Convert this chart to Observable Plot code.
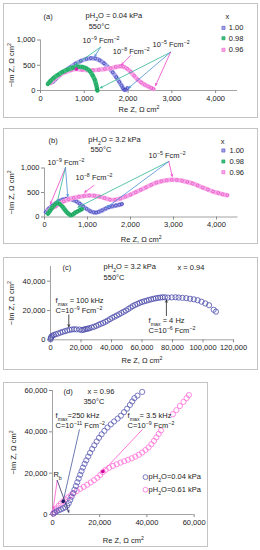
<!DOCTYPE html>
<html><head><meta charset="utf-8">
<script src="https://cdn.jsdelivr.net/npm/d3@7"></script>
<script src="https://cdn.jsdelivr.net/npm/@observablehq/plot@0.6"></script>
<style>
html,body{margin:0;padding:0;background:#fff;}
body{width:260px;height:550px;position:relative;overflow:hidden;font-family:"Liberation Sans",Arial,sans-serif;}
.panel{position:absolute;}
.panel svg{position:absolute;left:0;top:0;overflow:visible;}
.box{position:absolute;left:0;top:0;right:0;bottom:0;border:1px solid #c4c4c4;box-sizing:border-box;pointer-events:none;}
</style></head><body>
<script>
// ---------------- DATA ----------------
const xSeries = ["1.00", "0.98", "0.96"];
const pSeries = ["pH_{2}O=0.04 kPa", "pH_{2}O=0.61 kPa"];

// panel (a): pH2O = 0.04 kPa, 550 °C   [Re Z, -Im Z]
const a100 = [[280,170],[350,230],[450,310],[560,390],[680,460],[800,530],[920,585],[1050,625],[1150,640],[1250,635],[1350,600],[1450,540],[1550,455],[1650,360],[1730,265],[1800,170],[1850,100],[1885,45],[1910,15],[1950,15],[1985,45]];
const a098 = [[170,130],[230,190],[300,250],[400,310],[500,365],[620,415],[740,450],[860,470],[960,465],[1050,435],[1130,380],[1190,300],[1240,210],[1270,120],[1290,50],[1295,10],[1300,0]];
const a096 = [[230,150],[320,230],[430,300],[560,360],[700,405],[820,425],[950,410],[1080,400],[1200,400],[1330,410],[1470,425],[1600,440],[1720,465],[1820,480],[1900,470],[1980,430],[2060,370],[2140,290],[2220,215],[2300,160],[2380,115],[2460,80],[2530,50],[2580,30]];

// panel (b): pH2O = 3.2 kPa, 550 °C
const b100 = [[30,100],[100,170],[180,230],[260,280],[340,325],[420,355],[500,370],[580,368],[660,350],[740,320],[820,270],[900,215],[980,165],[1060,120],[1140,95],[1200,90],[1260,105],[1340,135],[1420,170],[1500,200],[1580,220],[1660,235],[1740,250],[1800,265]];
const b098 = [[80,70],[130,130],[180,190],[240,250],[300,285],[360,260],[420,210],[480,140],[540,80],[600,40],[650,45],[700,80],[760,110],[820,140],[870,160]];
const b096 = [[100,130],[180,180],[260,220],[350,270],[450,320],[560,360],[680,390],[800,415],[920,430],[1040,440],[1160,435],[1280,415],[1400,385],[1520,355],[1640,350],[1760,375],[1880,415],[2000,455],[2120,505],[2240,555],[2360,605],[2480,655],[2600,700],[2720,730],[2840,750],[2960,760],[3080,755],[3200,740],[3320,715],[3440,685],[3560,645],[3680,600],[3800,560],[3920,520],[4040,490],[4140,465],[4250,445]];

// panel (c): x = 0.94, pH2O = 3.2 kPa, 550 °C
const c094 = [[0,300],[200,1200],[500,2000],[1200,2800],[2200,3300],[3500,3800],[5000,4300],[6500,4900],[8000,5400],[9500,5900],[11000,6400],[12500,6800],[14000,7000],[15500,7200],[17000,7100],[19000,7000],[20500,6600],[21500,6900],[22500,7100],[23500,7400],[24500,7600],[25500,7900],[27000,8400],[28500,8900],[30000,9500],[31500,10200],[33000,10900],[34500,11500],[36000,12300],[37500,13100],[39000,14100],[40500,15000],[42000,15800],[43500,16600],[45000,17400],[46500,18300],[48000,19100],[49500,20000],[51000,21000],[52500,22000],[54000,23000],[55500,23800],[57000,24500],[58500,25200],[60000,25800],[61500,26300],[63000,26700],[64500,27200],[66000,27600],[67500,28000],[69000,28300],[70500,28600],[72000,28800],[73500,29000],[75000,29000],[77000,28800],[79500,28900],[82000,29000],[84000,28800],[86500,28600],[89000,28400],[91500,28000],[94000,27600],[96500,27000],[99000,26000],[101500,24800],[104000,23600],[107000,20500],[108500,19200]];

// panel (d): x = 0.96, 350 °C
const d004 = [[400,400],[1000,1000],[1800,1600],[2700,2100],[3600,2500],[4500,3000],[5400,3500],[6200,4300],[6900,5500],[7500,7000],[8100,8600],[8700,10300],[9300,12000],[9900,13800],[10500,15600],[11100,17400],[11700,19200],[12300,21000],[12900,22700],[13600,24500],[14300,26200],[15100,28000],[15900,29800],[16800,31700],[17700,33500],[18700,35300],[19700,37100],[20800,38800],[22000,40500],[23300,42100],[24700,43600],[26100,45000],[27600,46400],[29000,47800],[30300,49500],[31600,51200],[32800,53000],[33800,54700],[34700,56300],[36000,57500],[38000,59300]];
const d061 = [[300,500],[700,1200],[1200,2000],[1800,3000],[2600,4200],[3500,5300],[4500,6300],[5500,7300],[6600,8300],[7800,9300],[9000,10300],[10300,11400],[11700,12400],[13200,13400],[14700,14400],[16200,15500],[17600,16600],[19000,17800],[20200,19100],[21300,20500],[22500,21600],[24000,22600],[25600,23500],[27200,24300],[28800,25100],[30400,25800],[32000,26500],[33600,27200],[35100,28000],[36600,28900],[38000,30000],[39400,31200],[40700,32500],[41900,34000],[43000,35600],[44000,37300],[45000,39000],[46000,40700],[51000,48500],[52500,50500],[54000,52500],[55500,54500],[56800,56300],[57800,57800]];

// ticks
const abXTicks = [0,1000,2000,3000,4000];
const abYTicks = [0,500,1000];
const cXTicks = [0,20000,40000,60000,80000,100000,120000];
const cYTicks = [0,20000,40000];
const dXTicks = [0,20000,40000,60000];
const dYTicks = [0,20000,40000,60000];
const reLabel = "Re Z, Ω cm^{2}";
const imLabel = "−Im Z, Ω cm^{2}";

// ---------------- HELPERS ----------------
const FONT = '"Liberation Sans", Arial, sans-serif';
const fmt = d3.format(",");
const BLUE = {light:"#a4a4ea", dark:"#3a3ab4"};
const GREEN = {light:"#3cbf7c", dark:"#0f9a55"};
const PINK = {light:"#f7a8e6", dark:"#e84fc8"};
const ARR = {blue:"#4d8fd8", teal:"#2fb894", pink:"#ee44cc"};
const toPts = arr => arr.map(([re, im]) => ({re, im}));

function band(arr, col, w = 4.5) {
  const data = toPts(arr);
  return [
    Plot.line(data, {x:"re", y:"im", stroke: col.light, strokeWidth: w, strokeLinejoin:"round", strokeLinecap:"round", curve:"catmull-rom"}),
    Plot.dot(data, {x:"re", y:"im", r:1.4, stroke: col.dark, strokeWidth:0.7, fill:"none"})
  ];
}
function circles(arr, stroke, r = 2.6) {
  return Plot.dot(toPts(arr), {x:"re", y:"im", r, stroke, strokeWidth:0.8, fill:"none"});
}
function arrows(list, w = 0.8) {
  return list.map(a => Plot.arrow([a], {x1:"x1", y1:"y1", x2:"x2", y2:"y2", stroke: a.c, strokeWidth: w, headLength: a.h ?? 4, headAngle: 50}));
}
function label(t, x, y, opts = {}) {
  return Plot.text([t], {x, y, textAnchor:"start", fontSize: 7.5, fill:"#222", lineHeight: 1.35, ...opts});
}

function richify(svg) {
  svg.querySelectorAll("text, tspan").forEach(el => {
    if (el.children.length) return;
    const s = el.textContent;
    if (!/[\^_]\{/.test(s)) return;
    el.textContent = "";
    const re = /([\^_])\{([^}]*)\}/g;
    let last = 0, m;
    while ((m = re.exec(s))) {
      if (m.index > last) el.appendChild(document.createTextNode(s.slice(last, m.index)));
      const t = document.createElementNS("http://www.w3.org/2000/svg", "tspan");
      t.setAttribute("baseline-shift", m[1] === "^" ? "super" : "sub");
      t.setAttribute("font-size", "70%");
      t.textContent = m[2];
      el.appendChild(t);
      last = re.lastIndex;
    }
    if (last < s.length) el.appendChild(document.createTextNode(s.slice(last)));
  });
}

function panel(g) {
  const svg = Plot.plot({
    width: g.w, height: g.h,
    marginLeft: g.ml, marginRight: g.mr, marginTop: g.mt, marginBottom: g.mb,
    x: {domain: g.xd},
    y: {domain: g.yd},
    style: {fontFamily: FONT, fontSize: "7.5px", color: "#222", background: "transparent", overflow: "visible"},
    marks: [
      Plot.ruleY([0], {stroke:"#8c8c8c", strokeWidth: 0.8}),
      Plot.ruleX([0], {stroke:"#8c8c8c", strokeWidth: 0.8}),
      Plot.axisX({ticks: g.xt, tickFormat: fmt, tickSize: 3, tickPadding: 2, stroke: "#8c8c8c", label: reLabel, labelAnchor: "center", labelArrow: "none", labelOffset: g.xlo, fontSize: 7.5}),
      Plot.axisY({ticks: g.yt, tickFormat: fmt, tickSize: 3, tickPadding: 2, stroke: "#8c8c8c", label: imLabel, labelAnchor: "center", labelArrow: "none", labelOffset: g.ylo, fontSize: 7.5}),
      ...g.marks
    ]
  });
  richify(svg);
  const div = document.createElement("div");
  div.className = "panel";
  Object.assign(div.style, {left: g.left + "px", top: g.top + "px", width: g.w + "px", height: g.h + "px"});
  div.appendChild(svg);
  const box = document.createElement("div");
  box.className = "box";
  div.appendChild(box);
  document.body.appendChild(div);
}

// ---------------- PANEL (a) ----------------
const colsX = [BLUE, GREEN, PINK];
panel({
  left: 3, top: 3, w: 255, h: 115, ml: 37, mr: 21, mt: 36.5, mb: 28,
  xd: [0, 4500], yd: [0, 1000], xt: abXTicks, yt: abYTicks, xlo: 21.5, ylo: 32,
  marks: [
    ...band(a100, BLUE), ...band(a096, PINK), ...band(a098, GREEN),
    Plot.dot([{re:820, im:425}], {x:"re", y:"im", r:1.8, fill: "#d61fb0"}),
    ...arrows([
      {x1:1371,y1:857,x2:1241,y2:679,c:ARR.blue},
      {x1:1371,y1:857,x2:800,y2:509,c:ARR.teal},
      {x1:2057,y1:693,x2:1851,y2:509,c:ARR.pink},
      {x1:2971,y1:758,x2:1371,y2:53,c:ARR.teal},
      {x1:2971,y1:758,x2:2018,y2:53,c:ARR.blue},
      {x1:2971,y1:758,x2:2629,y2:99,c:ARR.pink}
    ]),
    label("(a)", 70, 1485),
    label("pH_{2}O = 0.04 kPa", 1030, 1495),
    label("550°C", 1100, 1285),
    label("10^{−9} Fcm^{−2}", 960, 1000),
    label("10^{−8} Fcm^{−2}", 1650, 790),
    label("10^{−5} Fcm^{−2}", 2560, 925),
    label("x", 4270, 1485, {textAnchor: "middle"}),
    Plot.dot(xSeries, {x: 4180, y: (d, i) => [1240, 1035, 805][i], symbol: "square", r: 1.8, fill: (d, i) => colsX[i].light, stroke: (d, i) => colsX[i].dark, strokeWidth: 0.5}),
    Plot.text(xSeries, {x: 4300, y: (d, i) => [1240, 1035, 805][i], text: d => d, textAnchor: "start", fontSize: 7.5, fill: "#222"})
  ]
});

// ---------------- PANEL (b) ----------------
panel({
  left: 3, top: 128, w: 255, h: 116, ml: 41, mr: 20.5, mt: 39.5, mb: 27.5,
  xd: [0, 4500], yd: [0, 1000], xt: abXTicks, yt: abYTicks, xlo: 24.5, ylo: 36,
  marks: [
    ...band(b100, BLUE), ...band(b096, PINK), ...band(b098, GREEN),
    ...arrows([
      {x1:488,y1:1010,x2:140,y2:269,c:ARR.pink},
      {x1:488,y1:1010,x2:295,y2:302,c:ARR.teal},
      {x1:488,y1:1010,x2:540,y2:420,c:ARR.blue},
      {x1:1147,y1:643,x2:937,y2:506,c:ARR.pink},
      {x1:2891,y1:1133,x2:780,y2:200,c:ARR.teal},
      {x1:2891,y1:1133,x2:1458,y2:200,c:ARR.blue},
      {x1:2891,y1:1133,x2:2970,y2:830,c:ARR.pink}
    ]),
    label("(b)", 93, 1580),
    label("pH_{2}O = 3.2 kPa", 1020, 1590),
    label("550°C", 1070, 1385),
    label("10^{−9} Fcm^{−2}", 70, 1118),
    label("10^{−8} Fcm^{−2}", 720, 812),
    label("10^{−5} Fcm^{−2}", 2420, 1270),
    label("x", 4140, 1560, {textAnchor: "middle"}),
    Plot.dot(xSeries, {x: 4160, y: (d, i) => [1357, 1133, 914][i], symbol: "square", r: 1.8, fill: (d, i) => colsX[i].light, stroke: (d, i) => colsX[i].dark, strokeWidth: 0.5}),
    Plot.text(xSeries, {x: 4300, y: (d, i) => [1357, 1133, 914][i], text: d => d, textAnchor: "start", fontSize: 7.5, fill: "#222"})
  ]
});

// ---------------- PANEL (c) ----------------
panel({
  left: 3, top: 257, w: 255, h: 113, ml: 47, mr: 25, mt: 9, mb: 30.7,
  xd: [0, 120000], yd: [0, 50000], xt: cXTicks, yt: cYTicks, xlo: 23, ylo: 42,
  marks: [
    circles(c094, "#4b4bab"),
    ...arrows([
      {x1:12000,y1:17000,x2:12000,y2:9000,c:"#222"},
      {x1:76000,y1:16500,x2:76000,y2:27000,c:"#222"}
    ]),
    label("(c)", 7900, 49600),
    label("pH_{2}O = 3.2 kPa", 34800, 50300),
    label("550°C", 34800, 43200),
    label("x = 0.94", 83300, 49600),
    label("f_{max} = 100 kHz\nC=10^{−9} Fcm^{−2}", 3300, 24200),
    label("f_{max} = 4 Hz\nC=10^{−6} Fcm^{−2}", 64300, 10400)
  ]
});

// ---------------- PANEL (d) ----------------
panel({
  left: 3, top: 382, w: 205, h: 165, ml: 49, mr: 14.4, mt: 8, mb: 33,
  xd: [0, 60000], yd: [0, 60000], xt: dXTicks, yt: dYTicks, xlo: 28.5, ylo: 42,
  marks: [
    circles(d061, "#ff70d8"),
    circles(d004, "#5a5ab4"),
    ...arrows([
      {x1:11400,y1:41000,x2:4500,y2:6300,c:"#4a5a9a"},
      {x1:38000,y1:41000,x2:21300,y2:20800,c:"#ff55cc"},
      {x1:2000,y1:16500,x2:300,y2:2800,c:"#ff55cc"},
      {x1:2000,y1:16500,x2:6900,y2:1100,c:"#333366"}
    ]),
    Plot.dot([{re:21300, im:20800}], {x:"re", y:"im", r:1.8, fill:"#cc0099"}),
    Plot.dot([{re:4500, im:6300}], {x:"re", y:"im", r:1.8, fill:"#1a1a66"}),
    label("(d)", 4700, 60000),
    label("x = 0.96", 14800, 60000),
    label("350°C", 13100, 55200),
    label("f_{max}=250 kHz\nC=10^{−11} Fcm^{−2}", 1300, 45750),
    label("f_{max}= 3.5 kHz\nC=10^{−9} Fcm^{−2}", 31800, 45750),
    label("R_{b}", 400, 19700),
    Plot.dot(pSeries, {x: 39400, y: (d, i) => [18100, 12000][i], r: 2.4, stroke: (d, i) => ["#5a5ab4", "#ff70d8"][i], strokeWidth: 0.8, fill: "none"}),
    Plot.text(pSeries, {x: 40700, y: (d, i) => [18100, 12000][i], text: d => d, textAnchor: "start", fontSize: 7.5, fill: "#222"})
  ]
});
</script>
</body></html>
